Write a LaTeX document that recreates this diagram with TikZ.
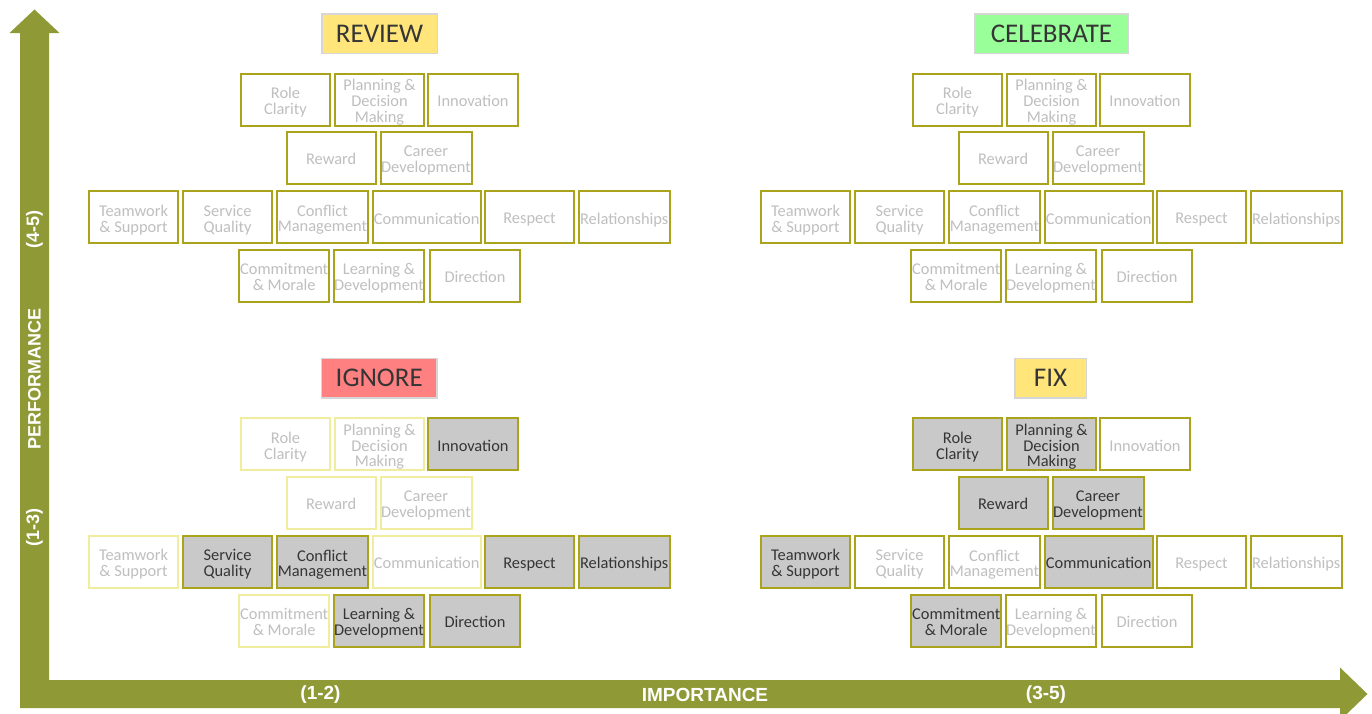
\documentclass[tikz,border=0pt]{standalone}
\usepackage{fontspec}
\setmainfont{Carlito}
\newfontfamily\axisfont{Liberation Sans}
\definecolor{axisolive}{HTML}{8F9A36}
\definecolor{boxolive}{HTML}{A9A41C}
\definecolor{boxlight}{HTML}{F1ED9E}
\definecolor{boxgrey}{HTML}{C9C9C9}
\definecolor{txtlight}{HTML}{BFBFBF}
\definecolor{txtdark}{HTML}{353535}
\definecolor{hdryellow}{HTML}{FFE57A}
\definecolor{hdrgreen}{HTML}{99FF99}
\definecolor{hdrred}{HTML}{FF8080}
\definecolor{hdrborder}{HTML}{D6D6D6}
\newcommand\qx{0}
\newcommand\qy{0}
\newcommand\qbox[6]{%
  \node[cellbox, b-#2, minimum width=#5pt] (#1-#2) at ({\qx+#3},{\qy+#4})
    {\raisebox{-3.5pt}[\height][\depth]{\begin{tabular}{@{}c@{}}#6\end{tabular}}};}
\newcommand\drawquad[1]{%
  \qbox{#1}{RC}{285.5}{99.7}{89}{Role\\Clarity}
  \qbox{#1}{PDM}{379.5}{99.7}{89}{Planning \&\\Decision\\Making}
  \qbox{#1}{INN}{473}{99.7}{90}{Innovation}
  \qbox{#1}{REW}{331.2}{158}{89}{Reward}
  \qbox{#1}{CD}{426}{158}{91}{Career\\Development}
  \qbox{#1}{TS}{133.5}{217.2}{89.5}{Teamwork\\\& Support}
  \qbox{#1}{SQ}{227.5}{217.2}{89.5}{Service\\Quality}
  \qbox{#1}{CM}{322.5}{217.2}{91}{Conflict\\Management}
  \qbox{#1}{COM}{426.7}{217.2}{108}{Communication}
  \qbox{#1}{RES}{529.5}{217.2}{89}{Respect}
  \qbox{#1}{REL}{624.2}{217.2}{91}{Relationships}
  \qbox{#1}{CMO}{284.2}{276}{89.5}{Commitment\\\& Morale}
  \qbox{#1}{LD}{379}{276}{90}{Learning \&\\Development}
  \qbox{#1}{DIR}{475}{276}{90}{Direction}
}
\tikzset{
  cellbox/.style={draw=boxolive, line width=2pt, fill=white, text=txtlight,
    minimum height=52pt, inner sep=0pt, align=center,
    font=\fontsize{16.4}{15}\selectfont},
  normbox/.style={draw=boxolive, fill=white, text=txtlight},
  fadebox/.style={draw=boxlight, fill=white, text=txtlight},
  hibox/.style={draw=boxolive, fill=boxgrey, text=txtdark},
  header/.style={draw=hdrborder, line width=1.5pt, minimum height=39.5pt,
    inner sep=0pt, text=txtdark, font=\fontsize{27}{27}\selectfont},
  axislabel/.style={text=white, inner sep=0pt,
    font=\axisfont\bfseries\fontsize{19}{19}\selectfont},
  vaxislabel/.style={axislabel, rotate=90,
    font=\axisfont\bfseries\fontsize{18}{18}\selectfont},
  setall/.style={b-RC/.style=#1, b-PDM/.style=#1, b-INN/.style=#1,
    b-REW/.style=#1, b-CD/.style=#1, b-TS/.style=#1, b-SQ/.style=#1,
    b-CM/.style=#1, b-COM/.style=#1, b-RES/.style=#1, b-REL/.style=#1,
    b-CMO/.style=#1, b-LD/.style=#1, b-DIR/.style=#1},
}
\begin{document}
\begin{tikzpicture}[x=1pt, y=-1pt]
\useasboundingbox (0,0) rectangle (1372,713);
% axes
\fill[axisolive] (20,708) -- (20,33) -- (9.5,33) -- (34.5,9.5) -- (59.5,33)
  -- (49,33) -- (49,680) -- (1340,680) -- (1340,667.5) -- (1367.5,694)
  -- (1340,720.5) -- (1340,708) -- cycle;
\node[vaxislabel] (p45) at (34.5,229) {(4-5)};
\node[vaxislabel] (perf) at (34.5,379) {PERFORMANCE};
\node[vaxislabel] (p13) at (34.5,527) {(1-3)};
\node[axislabel] (i12) at (320.5,694.5) {(1-2)};
\node[axislabel] (imp) at (705,694.5) {IMPORTANCE};
\node[axislabel] (i35) at (1046,694.5) {(3-5)};
% headers
\node[header, fill=hdryellow, minimum width=115.5pt] (review) at (379.5,33.5) {REVIEW};
\node[header, fill=hdrgreen, minimum width=153.5pt] (celebrate) at (1051.5,33.5) {CELEBRATE};
\node[header, fill=hdrred, minimum width=115.5pt] (ignore) at (379.2,378) {IGNORE};
\node[header, fill=hdryellow, minimum width=71.5pt] (fix) at (1050.5,378) {FIX};
% REVIEW
\begin{scope}[setall=normbox]
\renewcommand\qx{0}\renewcommand\qy{0}
\drawquad{tl}
\end{scope}
% CELEBRATE
\begin{scope}[setall=normbox]
\renewcommand\qx{672}\renewcommand\qy{0}
\drawquad{tr}
\end{scope}
% IGNORE
\begin{scope}[setall=fadebox, b-INN/.style=hibox, b-SQ/.style=hibox,
  b-CM/.style=hibox, b-RES/.style=hibox, b-REL/.style=hibox,
  b-LD/.style=hibox, b-DIR/.style=hibox]
\renewcommand\qx{0}\renewcommand\qy{344.5}
\drawquad{bl}
\end{scope}
% FIX
\begin{scope}[setall=normbox, b-RC/.style=hibox, b-PDM/.style=hibox,
  b-REW/.style=hibox, b-CD/.style=hibox, b-TS/.style=hibox,
  b-COM/.style=hibox, b-CMO/.style=hibox]
\renewcommand\qx{672}\renewcommand\qy{344.5}
\drawquad{br}
\end{scope}
\end{tikzpicture}
\end{document}
